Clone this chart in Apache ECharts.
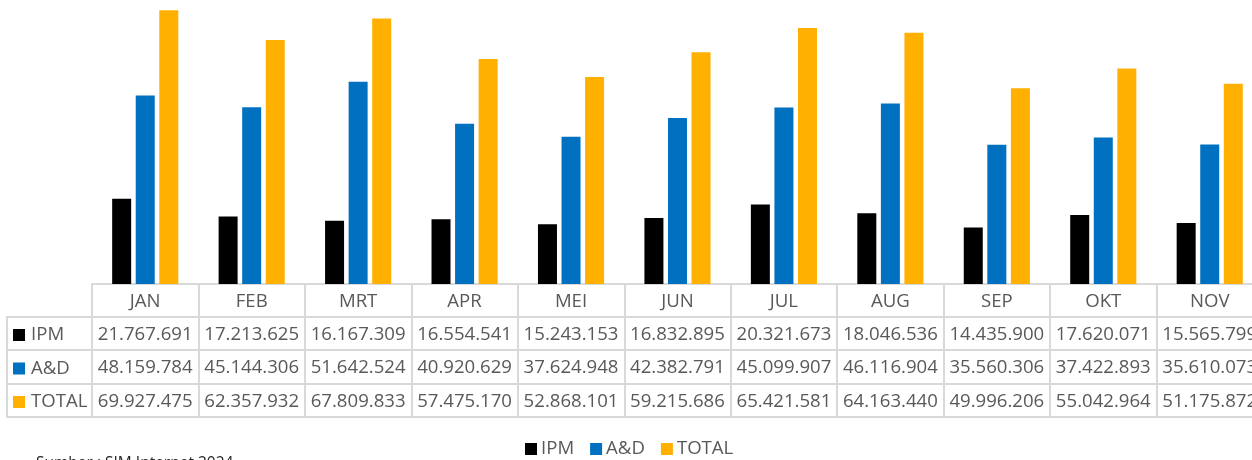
<!DOCTYPE html>
<html>
<head>
<meta charset="utf-8">
<script src="https://cdn.jsdelivr.net/npm/echarts@6/dist/echarts.min.js"></script>
<style>html,body{margin:0;padding:0;background:#fff;}#c{width:1252px;height:460px;}</style>
</head>
<body>
<div id="c"></div>
<script>
const categories = ['JAN','FEB','MRT','APR','MEI','JUN','JUL','AUG','SEP','OKT','NOV'];
const seriesNames = ['IPM','A&D','TOTAL'];
const ipm = [21767691,17213625,16167309,16554541,15243153,16832895,20321673,18046536,14435900,17620071,15565799];
const ad = [48159784,45144306,51642524,40920629,37624948,42382791,45099907,46116904,35560306,37422893,35610073];
const total = [69927475,62357932,67809833,57475170,52868101,59215686,65421581,64163440,49996206,55042964,51175872];
const sourceText = 'Sumber : SIM Internet 2024';

const colors = ['#000000','#0070C0','#FFB000'];
const lineColor = '#d9d9d9';
const textColor = '#595959';
const FONT = 'Open Sans';
const FS = 18.6;

function fmt(v){ return String(v).replace(/\B(?=(\d{3})+(?!\d))/g, '.'); }

const gridLeft = 92, gridTop = 10, colW = 106.45, gridH = 274;
const rowOffsets = [0, 33, 66, 100, 133];
const rowData = [null, ipm, ad, total];

const xAxes = [];
for (let r = 0; r < 5; r++) {
  const vals = rowData[r];
  const isLast = r === 4;
  xAxes.push({
    type: 'category',
    gridIndex: 0,
    position: 'bottom',
    offset: rowOffsets[r],
    data: categories,
    axisLine: { show: true, lineStyle: { color: lineColor, width: 2 } },
    axisTick: { show: !isLast, interval: 0, alignWithLabel: false,
      length: isLast ? 0 : rowOffsets[r+1] - rowOffsets[r],
      lineStyle: { color: lineColor, width: 2 } },
    axisLabel: {
      show: !isLast, interval: 0, margin: isLast ? 0 : (rowOffsets[r+1] - rowOffsets[r]) / 2 + 1,
      verticalAlign: 'middle',
      fontFamily: FONT, fontSize: FS, color: textColor,
      formatter: (v, i) => r === 0 ? v : fmt(vals[i])
    },
    splitLine: { show: false }
  });
}

const chart = echarts.init(document.getElementById('c'), null, { renderer: 'canvas' });
chart.setOption({
  animation: false,
  color: colors,
  grid: { left: gridLeft, top: gridTop, width: colW * categories.length, height: gridH,
    containLabel: false, outerBoundsMode: 'none' },
  xAxis: xAxes,
  yAxis: { type: 'value', min: 0, max: 70000000, show: false },
  legend: [
    { orient: 'vertical', left: 13, top: 325, padding: 0, itemGap: 13.5, itemWidth: 12, itemHeight: 12,
      icon: 'rect', data: seriesNames,
      textStyle: { fontFamily: FONT, fontSize: FS, color: textColor, lineHeight: 20, padding: [0,0,0,1] } },
    { orient: 'horizontal', left: 525, top: 439, padding: 0, itemGap: 16, itemWidth: 12, itemHeight: 12,
      icon: 'rect', data: seriesNames,
      textStyle: { fontFamily: FONT, fontSize: FS, color: textColor, lineHeight: 20, padding: [0,0,0,-1] } }
  ],
  graphic: [
    { type: 'rect', shape: { x: 7, y: gridTop + gridH + rowOffsets[1], width: gridLeft - 7, height: rowOffsets[4] - rowOffsets[1] },
      style: { fill: 'none', stroke: lineColor, lineWidth: 2 }, silent: true },
    { type: 'line', shape: { x1: 7, y1: gridTop + gridH + rowOffsets[2], x2: gridLeft, y2: gridTop + gridH + rowOffsets[2] },
      style: { stroke: lineColor, lineWidth: 2 }, silent: true },
    { type: 'line', shape: { x1: 7, y1: gridTop + gridH + rowOffsets[3], x2: gridLeft, y2: gridTop + gridH + rowOffsets[3] },
      style: { stroke: lineColor, lineWidth: 2 }, silent: true },
    { type: 'text', left: 36, top: 455.5, style: { text: sourceText, fontFamily: FONT, fontSize: 15.5, fill: '#262626' }, silent: true }
  ],
  series: [
    { name: seriesNames[0], type: 'bar', data: ipm, barWidth: 19, barGap: '24%', itemStyle: { color: colors[0] } },
    { name: seriesNames[1], type: 'bar', data: ad, barWidth: 19, barGap: '24%', itemStyle: { color: colors[1] } },
    { name: seriesNames[2], type: 'bar', data: total, barWidth: 19, barGap: '24%', itemStyle: { color: colors[2] } }
  ]
});
</script>
</body>
</html>
